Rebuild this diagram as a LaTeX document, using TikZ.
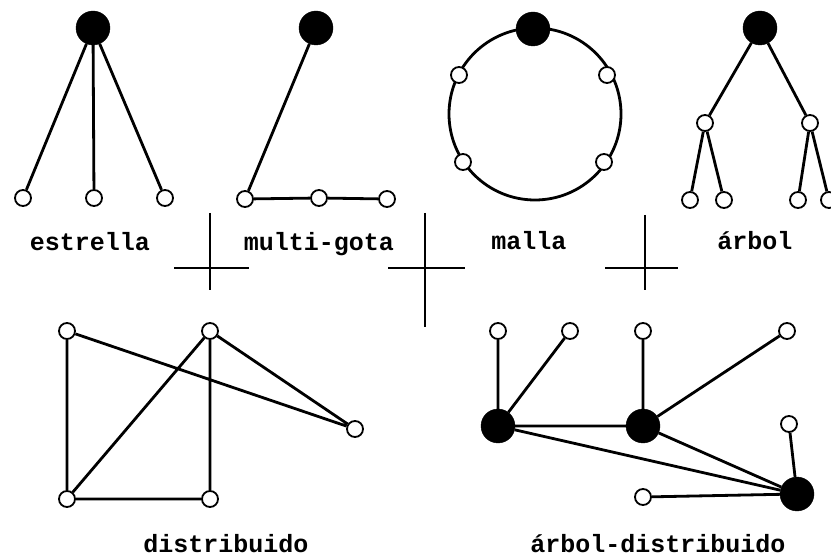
\documentclass[tikz,border=0pt]{standalone}
\usepackage{fontspec}
\newfontfamily\labelfont{Liberation Mono}

\newcommand{\scaler}{1pt}
\newcommand{\hubsize}{34pt}
\newcommand{\leafsize}{16pt}

\tikzset{
  hub/.style={circle, fill=black, draw=black, minimum size=\hubsize, inner sep=0pt},
  leaf/.style={circle, fill=white, draw=black, line width=1.8pt, minimum size=\leafsize, inner sep=0pt},
  link/.style={line width=2.8pt},
  cross/.style={line width=1.2pt},
  caption/.style={font=\labelfont\bfseries\fontsize{25}{27}\selectfont, inner sep=0pt, anchor=base}
}

\begin{document}
\begin{tikzpicture}[x=\scaler, y=-\scaler]
\useasboundingbox (0,0) rectangle (831,556);

% estrella
\node[hub] (e0) at (93,28) {};
\node[leaf] (e1) at (23,198) {};
\node[leaf] (e2) at (94,198) {};
\node[leaf] (e3) at (165,198) {};
\draw[link] (e0) -- (e1) (e0) -- (e2) (e0) -- (e3);
\node[caption] (le) at (90,251) {estrella};

% multi-gota
\node[hub] (g0) at (316,28) {};
\node[leaf] (g1) at (245,199) {};
\node[leaf] (g2) at (319,198) {};
\node[leaf] (g3) at (387,199) {};
\draw[link] (g0) -- (g1) (g1) -- (g2) -- (g3);
\node[caption] (lg) at (319,251) {multi-gota};

% malla
\coordinate (m) at (535,114);
\draw[link] (m) circle[radius=86];
\node[hub] (m0) at (533,29) {};
\node[leaf] (m1) at (459,75) {};
\node[leaf] (m2) at (607,75) {};
\node[leaf] (m3) at (463,162) {};
\node[leaf] (m4) at (604,162) {};
\node[caption] (lm) at (529,250) {malla};

% arbol
\node[hub] (a0) at (760,28) {};
\node[leaf] (a1) at (705,123) {};
\node[leaf] (a2) at (810,123) {};
\node[leaf] (a3) at (690,200) {};
\node[leaf] (a4) at (724,200) {};
\node[leaf] (a5) at (798,200) {};
\node[leaf] (a6) at (829,200) {};
\draw[link] (a0) -- (a1) (a0) -- (a2) (a1) -- (a3) (a1) -- (a4) (a2) -- (a5) (a2) -- (a6);
\node[caption] (la) at (755,250) {árbol};

% separadores
\draw[cross] (210,213) -- (210,290) (174,268) -- (249,268);
\draw[cross] (425,213) -- (425,327) (388,268) -- (465,268);
\draw[cross] (645,215) -- (645,290) (605,268) -- (678,268);

% distribuido
\node[leaf] (d1) at (67,331) {};
\node[leaf] (d2) at (210,331) {};
\node[leaf] (d3) at (355,429) {};
\node[leaf] (d4) at (67,499) {};
\node[leaf] (d5) at (210,499) {};
\draw[link] (d1) -- (d4) (d1) -- (d3) (d2) -- (d3) (d2) -- (d4) (d2) -- (d5) (d4) -- (d5);
\node[caption] (ld) at (226,552) {distribuido};

% arbol-distribuido
\node[hub] (h1) at (498,426) {};
\node[hub] (h2) at (643,426) {};
\node[hub] (h3) at (797,494) {};
\node[leaf] (t1) at (498,331) {};
\node[leaf] (t2) at (570,331) {};
\node[leaf] (t3) at (643,331) {};
\node[leaf] (t4) at (787,331) {};
\node[leaf] (t5) at (789,424) {};
\node[leaf] (t6) at (643,497) {};
\draw[link] (h1) -- (t1) (h1) -- (t2) (h2) -- (t3) (h2) -- (t4) (h3) -- (t5) (h3) -- (t6);
\draw[link] (h1) -- (h2) (h1) -- (h3) (h2) -- (h3);
\node[caption] (lad) at (658,552) {árbol-distribuido};

\end{tikzpicture}
\end{document}
